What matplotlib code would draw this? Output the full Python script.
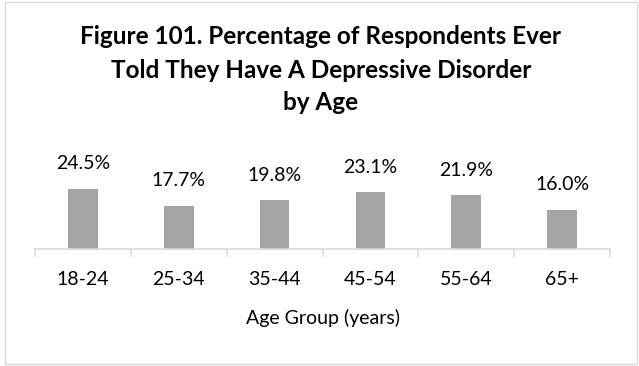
import numpy as np
from matplotlib import pyplot as plt
from matplotlib.patches import Rectangle

plt.rcParams['font.family'] = ['Lato', 'DejaVu Sans']

age_groups = ['18-24', '25-34', '35-44', '45-54', '55-64', '65+']
pct = [24.5, 17.7, 19.8, 23.1, 21.9, 16.0]
pct_labels = ['24.5%', '17.7%', '19.8%', '23.1%', '21.9%', '16.0%']

W, H = 639, 366
fig = plt.figure(figsize = (W/100, H/100), dpi = 100)

# light frame round the whole chart
fig.patches.append(Rectangle((5/W, 2/H), 632/W, 362/H, transform = fig.transFigure,
                             fill = False, edgecolor = '#d9d9d9', lw = 1))

title_lines = ['Figure 101. Percentage of Respondents Ever',
               'Told They Have A Depressive Disorder',
               'by Age']
for ty, line in zip([37, 70, 103], title_lines):
    fig.text(321/W, 1 - ty/H, line, ha = 'center', va = 'center',
             fontsize = 17.5, fontweight = 'bold')

# axes: x from 35 to 610 px, y zero at 249 px, 2.45 px per percent
ax_left, ax_right = 35, 610
y0 = 249
ymax = 30
ax_h = ymax*2.45
ax = fig.add_axes([ax_left/W, 1 - y0/H, (ax_right - ax_left)/W, ax_h/H])

x = np.arange(len(age_groups))
ax.bar(x, pct, width = 0.31, color = '#a5a5a5')
for xi, v, lab in zip(x, pct, pct_labels):
    ax.annotate(lab, (xi, v), xytext = (0, 18), textcoords = 'offset points',
                ha = 'center', va = 'center', fontsize = 14, color = '#000000')

ax.set_xlim(-0.5, len(age_groups) - 0.5)
ax.set_ylim(0, ymax)
for s in ['top', 'right', 'left']:
    ax.spines[s].set_visible(False)
ax.spines['bottom'].set_color('#d9d9d9')
ax.spines['bottom'].set_linewidth(1.2)
ax.set_yticks([])
ax.set_xticks(np.arange(len(age_groups) + 1) - 0.5)
ax.set_xticklabels([])
ax.tick_params(axis = 'x', length = 6, color = '#d9d9d9', width = 1.2)
ax.set_xticks(x, minor = True)
ax.set_xticklabels(age_groups, minor = True, fontsize = 14)
ax.tick_params(axis = 'x', which = 'minor', length = 0, pad = 16)
ax.set_xlabel('Age Group (years)', fontsize = 14, labelpad = 15)

fig.savefig('out.png', dpi = 100)
